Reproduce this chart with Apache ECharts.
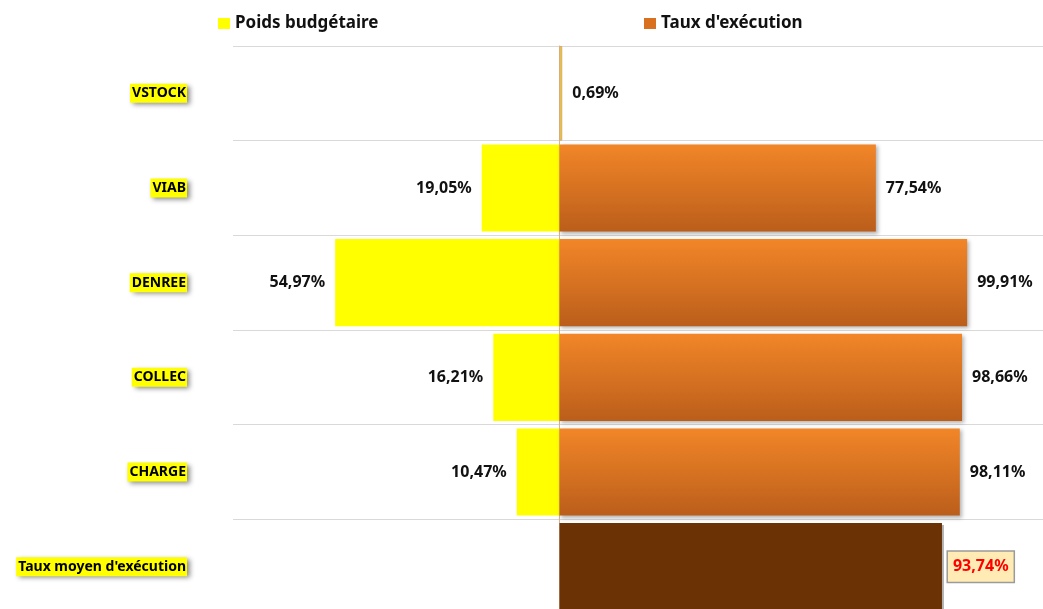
<!DOCTYPE html>
<html>
<head>
<meta charset="utf-8">
<script src="https://cdn.jsdelivr.net/npm/echarts@6/dist/echarts.min.js"></script>
<style>
  html, body { margin: 0; padding: 0; background: #fff; }
  #chart { width: 1043px; height: 609px; }
</style>
</head>
<body>
<div id="chart"></div>
<script>
// rows, top to bottom
var categories = ['VSTOCK', 'VIAB', 'DENREE', 'COLLEC', 'CHARGE', "Taux moyen d'exécution"];
// Poids budgétaire (drawn on the left side)
var poids = [0.69, 19.05, 54.97, 16.21, 10.47, null];
// Taux d'exécution (right side), last one is the average
var taux = [null, 77.54, 99.91, 98.66, 98.11, 93.74];

var fmt = function (v) {
    return Math.abs(v).toFixed(2).replace('.', ',') + '%'
}

var orange = new echarts.graphic.LinearGradient(0, 0, 0, 1, [
    { offset: 0, color: '#f28628' },
    { offset: 1, color: '#bb5e1b' }
])

var chart = echarts.init(document.getElementById('chart'))

// VSTOCK bar is drawn full row height, so it sits on its own hidden axis
var vstock = poids.map(function (v, i) { return i === 0 ? v : null })
var poidsLeft = poids.map(function (v, i) { return i === 0 || v == null ? null : -v })
var tauxData = taux.map(function (v, i) {
    if (i !== taux.length - 1) return v
    return {
        value: v,
        itemStyle: { color: '#6b3206', shadowBlur: 0 },
        label: {
            color: '#ff0000',
            fontSize: 16,
            backgroundColor: '#ffebb3',
            borderColor: '#9a9a9a',
            borderWidth: 1.5,
            padding: [8, 5, 6, 5],
            distance: 6
        }
    }
})

var labelStyle = {
    show: true,
    fontFamily: 'Noto Sans',
    fontWeight: 'bold',
    fontSize: 16,
    color: '#111',
    distance: 10,
    formatter: function (p) { return fmt(p.value) }
}

chart.setOption({
    animation: false,
    textStyle: { fontFamily: 'Noto Sans' },
    legend: [
        {
            left: 213, top: 10,
            itemWidth: 12, itemHeight: 11, itemTextGap: 6,
            textStyle: { fontWeight: 'bold', fontSize: 17, color: '#111' },
            data: [{ name: 'Poids budgétaire', icon: 'rect', itemStyle: { color: '#ffff00' } }]
        },
        {
            left: 639, top: 10,
            itemWidth: 12, itemHeight: 11, itemTextGap: 6,
            textStyle: { fontWeight: 'bold', fontSize: 17, color: '#111' },
            data: [{ name: "Taux d'exécution", icon: 'rect', itemStyle: { color: '#d9701f' } }]
        }
    ],
    grid: { left: 233, right: 0, top: 46, height: 568, outerBoundsMode: 'none' },
    xAxis: {
        type: 'value',
        min: -80,
        max: 118.5,
        show: false
    },
    yAxis: [
        {
            type: 'category',
            inverse: true,
            data: categories,
            axisTick: { show: false },
            axisLine: { show: true, onZero: true, lineStyle: { color: '#d8b48e', width: 1 } },
            splitLine: { show: true, lineStyle: { color: '#d9d9d9', width: 1 } },
            axisLabel: {
                margin: 46,
                fontFamily: 'Noto Sans',
                fontWeight: 'bold',
                fontSize: 14,
                color: '#000',
                backgroundColor: '#ffff00',
                padding: [3, 1, 2, 2],
                shadowColor: 'rgba(0,0,0,0.45)',
                shadowBlur: 5,
                shadowOffsetX: 3,
                shadowOffsetY: 2
            }
        },
        {
            type: 'category',
            inverse: true,
            data: categories,
            show: false
        }
    ],
    series: [
        {
            name: 'Poids budgétaire',
            type: 'bar',
            stack: 'all',
            barWidth: '92%',
            data: poidsLeft,
            itemStyle: { color: '#ffff00' },
            label: Object.assign({}, labelStyle, { position: 'left' })
        },
        {
            name: "Taux d'exécution",
            type: 'bar',
            stack: 'all',
            barWidth: '92%',
            data: tauxData,
            itemStyle: {
                color: orange,
                shadowColor: 'rgba(0,0,0,0.3)',
                shadowBlur: 4,
                shadowOffsetX: 2,
                shadowOffsetY: 2
            },
            label: Object.assign({}, labelStyle, { position: 'right' })
        },
        {
            name: 'vstock',
            type: 'bar',
            yAxisIndex: 1,
            barWidth: '100%',
            data: vstock,
            itemStyle: { color: '#f2d21c', borderColor: '#d8a870', borderWidth: 1 },
            label: Object.assign({}, labelStyle, { position: 'right', distance: 10 })
        }
    ]
})
</script>
</body>
</html>
